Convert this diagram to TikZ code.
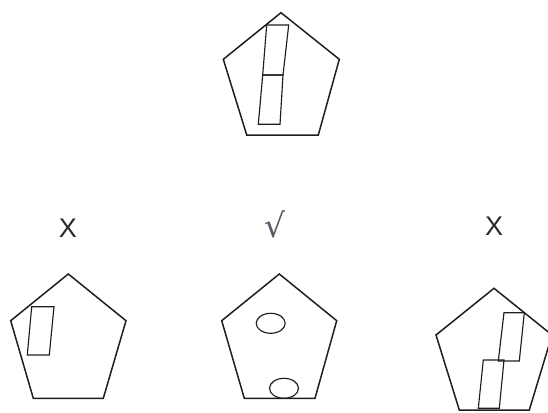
\documentclass[tikz,border=0pt]{standalone}
\usepackage{fontspec}
\setmainfont{Liberation Sans}
\newfontfamily\simbolos{DejaVu Sans}
\usepackage{tikz}
\usetikzlibrary{positioning,calc}
\definecolor{clinea}{HTML}{1E1E1E}
\definecolor{ctexto}{HTML}{2A2A2A}
\definecolor{cvisto}{HTML}{555B66}
\tikzset{
  figura/.style={draw=clinea, line width=1.5pt, line join=miter},
  pieza/.style={draw=clinea, line width=1.15pt},
  etq/.style={font=\fontsize{27}{27}\selectfont, text=ctexto, inner sep=0pt},
  etqv/.style={font=\simbolos\fontsize{33}{33}\selectfont, text=cvisto, inner sep=0pt},
}

\begin{document}
\begin{tikzpicture}[x=1pt, y=-1pt]
  \useasboundingbox (0,0) rectangle (548,412);
  \clip (0,0) rectangle (548,412);
  % figura de arriba
  \draw[figura] (281,12.7) -- (339.3,59.3) -- (318.3,135) -- (246.7,135) -- (223.3,59.3) -- cycle;
  \draw[pieza] (266.7,25) -- (288.7,25) -- (283,75) -- (262.7,75) -- cycle;
  \draw[pieza] (262.7,75) -- (283,75) -- (280,124.3) -- (258.3,124.3) -- cycle;
  % opciones
  \node[etq] (etqa) at (68,228) {X};
  \node[etqv] (etqb) at (275,224) {√};
  \node[etq] (etqc) at (494,226) {X};
  \draw[figura] (68.3,274) -- (126,320.7) -- (103.3,398.3) -- (33.3,398.3) -- (10.7,320.7) -- cycle;
  \draw[pieza] (31.7,306.7) -- (54,306.7) -- (49.3,355) -- (27.3,355) -- cycle;
  \draw[figura] (279.3,274) -- (336.7,320.7) -- (315,398.3) -- (244.3,398.3) -- (221.7,320.7) -- cycle;
  \draw[pieza] (270.7,323.3) ellipse [x radius=14.5, y radius=10];
  \draw[pieza] (284,388.3) ellipse [x radius=14.5, y radius=10];
  \draw[figura] (494,288.3) -- (552,335) -- (529.3,410) -- (459.3,410) -- (436,335) -- cycle;
  \draw[pieza] (504,312.7) -- (524.3,312.7) -- (519.3,361) -- (498.3,361) -- cycle;
  \draw[pieza] (483.3,360) -- (504,360) -- (499.3,408.3) -- (478.3,408.3) -- cycle;
\end{tikzpicture}
\end{document}
